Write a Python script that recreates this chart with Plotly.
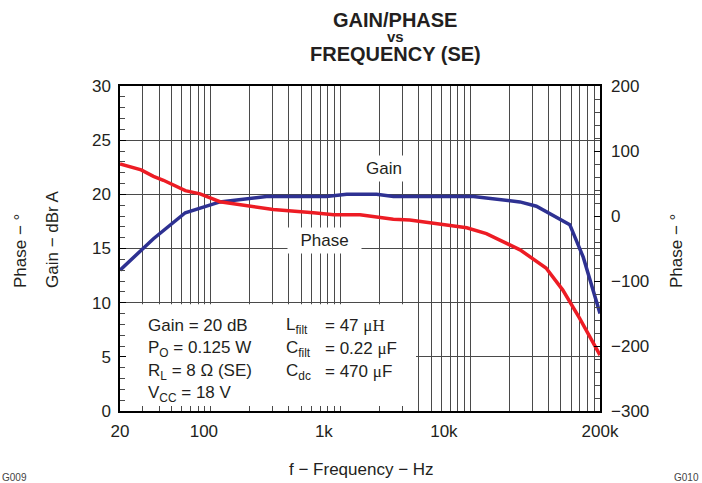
import plotly.graph_objects as go
import math

# ---------------- data ----------------
freq_gain = [20, 38, 70, 136, 333, 1050, 1550, 2750, 3800, 17600, 43000, 59000, 112000, 145000, 200000]
gain_db = [13.0, 15.9, 18.3, 19.3, 19.8, 19.8, 20.0, 20.0, 19.8, 19.8, 19.3, 18.9, 17.2, 14.2, 9.0]

freq_phase = [20, 30, 38, 46, 70, 93, 136, 200, 378, 818, 1210, 2000, 3790, 5190, 9300,
              15500, 22600, 43100, 71000, 98000, 135000, 200000]
phase_deg = [80, 71, 61, 55, 39, 34, 22, 17, 10, 5, 2, 2, -5, -6, -13,
             -18, -27, -52, -80, -114, -157, -214]

x_tickvals = [20, 100, 1000, 10000, 200000]
x_ticktext = ["20", "100", "1k", "10k", "200k"]
gain_ticks = [0, 5, 10, 15, 20, 25, 30]
phase_ticks = [-300, -200, -100, 0, 100, 200]

# ---------------- styling ----------------
FONT = "Liberation Sans, Arial, sans-serif"
TXT = "#231f20"
BLUE = "#2e3192"
RED = "#ed1c24"
GRID = "#4a4a4a"

W, H = 702, 483
L, R, T, B = 120, 102, 86, 72
PW, PH = W - L - R, H - T - B

GRID_LO, GRID_HI = 20, 100000  # span of the drawn log grid


def px(x):
    return (x - L) / PW


def py(y):
    return (H - B - y) / PH


def grid_x(pxl):
    # pixel position -> value on the grid axis (for placing the white box edge)
    lo, hi = math.log10(GRID_LO), math.log10(GRID_HI)
    return 10 ** (lo + (hi - lo) * px(pxl))


fig = go.Figure()

# empty trace so the grid axis subplot (x, y) exists
fig.add_trace(go.Scatter(x=[], y=[], mode="lines", xaxis="x", yaxis="y",
                         hoverinfo="skip", showlegend=False))
fig.add_trace(go.Scatter(x=freq_gain, y=gain_db, mode="lines", name="Gain",
                         line=dict(color=BLUE, width=3.5), xaxis="x2", yaxis="y"))
fig.add_trace(go.Scatter(x=freq_phase, y=phase_deg, mode="lines", name="Phase",
                         line=dict(color=RED, width=3.5), xaxis="x2", yaxis="y2"))

fig.update_layout(
    width=W, height=H, autosize=False,
    margin=dict(l=L, r=R, t=T, b=B),
    paper_bgcolor="white", plot_bgcolor="white",
    showlegend=False,
    font=dict(family=FONT, size=17, color=TXT),
    # grid-only log axis (as drawn in the reference)
    xaxis=dict(
        type="log", range=[math.log10(GRID_LO), math.log10(GRID_HI)],
        dtick="D1", showticklabels=False,
        ticks="inside", ticklen=5, tickcolor=GRID, tickwidth=1,
        showgrid=True, gridcolor=GRID, gridwidth=1,
        zeroline=False,
        showline=True, linecolor="black", linewidth=1.5, mirror=True,
    ),
    # labelled frequency axis used by the curves
    xaxis2=dict(
        type="log", range=[math.log10(20), math.log10(200000)],
        overlaying="x", anchor="y", side="bottom",
        tickvals=x_tickvals, ticktext=x_ticktext,
        ticks="", showgrid=False, zeroline=False, showline=False,
        ticklabelstandoff=8, tickfont=dict(size=17),
    ),
    yaxis=dict(
        range=[0, 30], tickvals=gain_ticks,
        ticks="inside", ticklen=6, tickcolor="black",
        minor=dict(dtick=1, ticks="inside", ticklen=5, tickcolor=GRID, showgrid=False),
        showgrid=True, gridcolor=GRID, gridwidth=1,
        zeroline=False, showline=True, linecolor="black", linewidth=1.5, mirror=True,
        ticklabelstandoff=4, tickfont=dict(size=17),
    ),
    yaxis2=dict(
        range=[-300, 200], tickvals=phase_ticks, overlaying="y", side="right",
        anchor="x",
        ticks="inside", ticklen=6, tickcolor="black",
        minor=dict(dtick=20, ticks="inside", ticklen=5, tickcolor=GRID, showgrid=False),
        showgrid=False, zeroline=False, showline=False,
        ticklabelstandoff=10, tickfont=dict(size=17),
    ),
)

# white box behind the conditions text (above the grid, below the axes)
fig.add_shape(type="rect", xref="x", yref="y", x0=GRID_LO, x1=grid_x(416), y0=0, y1=9.85,
              fillcolor="white", line=dict(width=0), layer="between")

ann = []
# title
ann.append(dict(text="<b>GAIN/PHASE</b>", x=px(395), y=py(20), font=dict(size=20)))
ann.append(dict(text="<b>vs</b>", x=px(395), y=py(36), font=dict(size=15)))
ann.append(dict(text="<b>FREQUENCY (SE)</b>", x=px(395), y=py(54), font=dict(size=20)))
# axis titles
ann.append(dict(text="f \u2212 Frequency \u2212 Hz", x=px(361), y=py(469), font=dict(size=17)))
ann.append(dict(text="Gain \u2212 dBr A", x=px(52), y=py(290), textangle=-90, yanchor="bottom"))
ann.append(dict(text="Phase \u2212 \u00b0", x=px(20), y=py(290), textangle=-90, yanchor="bottom"))
ann.append(dict(text="Phase \u2212 \u00b0", x=px(676), y=py(290), textangle=-90, yanchor="bottom"))
# figure codes
ann.append(dict(text="G009", x=px(0), y=py(477), xanchor="left", font=dict(size=10, color="#444")))
ann.append(dict(text="G010", x=px(701), y=py(477), xanchor="right", font=dict(size=10, color="#444")))
# curve labels
ann.append(dict(text="Gain", x=px(384), y=py(168.5), bgcolor="white", borderpad=3, font=dict(size=17)))
ann.append(dict(text="&nbsp;&nbsp;Phase&nbsp;&nbsp;", x=px(324), y=py(240), bgcolor="white",
                borderpad=3, font=dict(size=17)))
# conditions
SERIF = "font-family:Liberation Serif, Times New Roman, serif"
MU = '<span style="' + SERIF + '">\u03bc</span>'
rows_left = ["Gain = 20 dB", "P<sub>O</sub> = 0.125 W", "R<sub>L</sub> = 8 \u03a9 (SE)", "V<sub>CC</sub> = 18 V"]
rows_sym = ["L<sub>filt</sub>", "C<sub>filt</sub>", "C<sub>dc</sub>"]
rows_val = ["= 47 " + '<span style="' + SERIF + '">\u03bcH</span>',
            "= 0.22 " + MU + "F", "= 470 " + MU + "F"]
row_y = [325.5, 348.5, 371.5, 394]
for i, t in enumerate(rows_left):
    ann.append(dict(text=t, x=px(146), y=py(row_y[i]), xanchor="left", font=dict(size=17)))
for i, t in enumerate(rows_sym):
    ann.append(dict(text=t, x=px(284), y=py(row_y[i]), xanchor="left", font=dict(size=17)))
for i, t in enumerate(rows_val):
    ann.append(dict(text=t, x=px(323), y=py(row_y[i]), xanchor="left", font=dict(size=17)))

for a in ann:
    a.setdefault("xref", "paper")
    a.setdefault("yref", "paper")
    a.setdefault("showarrow", False)
    a.setdefault("xanchor", "center")
    a.setdefault("yanchor", "middle")
    fig.add_annotation(**a)

fig.write_html("out.html", config={"displayModeBar": False},
               post_script="document.body.style.margin='0';")
